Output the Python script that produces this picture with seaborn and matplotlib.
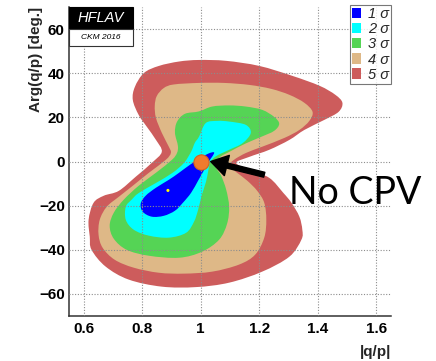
import matplotlib
matplotlib.use("Agg")
import numpy as np
import matplotlib.pyplot as plt
from matplotlib.patches import Patch, Rectangle, PathPatch
from matplotlib.path import Path
from matplotlib.ticker import MultipleLocator
import seaborn as sns
import pandas as pd

# ---------------- data ----------------
levels = ["1 σ", "2 σ", "3 σ", "4 σ", "5 σ"]
colors = ["#cd5c5c", "#deb887", "#55d455", "#00ffff", "#0000ff"]  # 5σ ... 1σ

red_x = [0.994, 1.087, 1.200, 1.313, 1.406, 1.460, 1.484, 1.471, 1.423, 1.354, 1.303, 1.234,
         1.166, 1.121, 1.166, 1.234, 1.282, 1.310, 1.337, 1.347, 1.344, 1.303, 1.210, 1.097,
         0.984, 0.867, 0.754, 0.675, 0.627, 0.621, 0.617, 0.634, 0.669, 0.720, 0.778, 0.833,
         0.867, 0.847, 0.816, 0.788, 0.768, 0.775, 0.806, 0.857, 0.926]
red_y = [46.0, 45.6, 43.3, 38.8, 34.3, 30.2, 26.6, 22.5, 18.9, 14.3, 9.8, 5.3,
         2.1, -0.6, -3.8, -7.4, -14.2, -18.7, -25.0, -30.9, -35.4, -43.1, -49.9, -54.9,
         -56.9, -56.7, -53.5, -47.6, -40.0, -34.1, -26.4, -18.7, -15.5, -13.3, -6.9, -0.6,
         4.4, 9.8, 15.7, 21.1, 27.9, 33.8, 40.1, 43.3, 45.3]

tan_x = [0.908, 0.994, 1.080, 1.166, 1.241, 1.303, 1.354, 1.382, 1.371, 1.337, 1.286, 1.210,
         1.155, 1.114, 1.097, 1.124, 1.159, 1.193, 1.217, 1.224, 1.217, 1.186, 1.131, 1.039,
         0.943, 0.857, 0.771, 0.706, 0.665, 0.651, 0.655, 0.679, 0.720, 0.764, 0.823, 0.881,
         0.898, 0.891, 0.867, 0.847, 0.843, 0.850, 0.874]
tan_y = [34.9, 35.6, 35.6, 34.7, 32.9, 30.2, 26.6, 22.5, 18.4, 14.3, 10.7, 6.7,
         3.9, 0.8, -1.9, -5.1, -8.7, -13.3, -18.7, -26.4, -34.5, -42.2, -46.7, -49.9,
         -50.8, -50.4, -48.1, -44.5, -39.1, -33.2, -26.4, -20.5, -16.0, -11.4, -5.1, 0.8,
         3.9, 6.7, 13.0, 19.8, 25.2, 29.7, 33.3]

green_x = [0.994, 1.039, 1.097, 1.154, 1.210, 1.251, 1.268, 1.251, 1.207, 1.154, 1.104, 1.063,
           1.052, 1.070, 1.087, 1.097, 1.090, 1.063, 1.004, 0.926, 0.823, 0.747, 0.703, 0.689,
           0.703, 0.737, 0.788, 0.847, 0.902, 0.919, 0.922, 0.912, 0.919, 0.946]
green_y = [22.7, 24.9, 25.4, 24.9, 23.4, 20.2, 17.1, 13.9, 11.2, 8.2, 4.8, 1.7,
           -2.4, -6.5, -12.8, -20.5, -28.2, -35.4, -40.9, -43.6, -42.7, -40.0, -35.0, -29.1,
           -23.2, -17.3, -11.0, -5.1, 0.8, 3.9, 7.1, 13.0, 18.0, 21.6]

cyan_x = [0.994, 1.017, 1.056, 1.097, 1.154, 1.171, 1.143, 1.097, 1.051, 1.032, 1.025, 1.018,
          1.004, 0.991, 0.977, 0.950, 0.891, 0.823, 0.771, 0.744, 0.744, 0.764, 0.788, 0.846,
          0.903, 0.943, 0.967, 0.980]
cyan_y = [11.2, 17.4, 18.4, 18.1, 16.6, 12.9, 8.3, 5.3, 2.3, -0.6, -4.7, -9.2,
          -15.1, -21.9, -27.3, -32.3, -34.5, -33.6, -30.9, -26.4, -20.5, -17.3, -14.3, -9.8,
          -5.2, -0.6, 4.4, 8.5]

blue_x = [1.046, 1.025, 1.008, 0.991, 0.967, 0.939, 0.912, 0.874, 0.833, 0.802, 0.795, 0.812,
          0.847, 0.891, 0.926, 0.963, 1.001, 1.028]
blue_y = [3.9, -0.6, -4.7, -8.7, -14.2, -18.7, -22.3, -24.6, -25.0, -22.8, -19.1, -15.5,
          -11.9, -8.3, -5.1, -1.5, 1.7, 3.7]

best_fit = pd.DataFrame({"qp": [0.888], "arg": [-13.1]})
no_cpv = pd.DataFrame({"qp": [1.0], "arg": [0.0]})
arrow_tail = (1.217, -6.0)
arrow_tip = (1.034, 0.0)

xticks = [0.6, 0.8, 1.0, 1.2, 1.4, 1.6]
xticklabels = ["0.6", "0.8", "1", "1.2", "1.4", "1.6"]
yticks = [-60, -40, -20, 0, 20, 40, 60]
yticklabels = ["\u221260", "\u221240", "\u221220", "0", "20", "40", "60"]


def smooth_closed_path(xs, ys):
    """Closed Catmull-Rom outline through the given vertices (drawn as cubic Bezier)."""
    p = np.column_stack([xs, ys]).astype(float)
    n = len(p)
    verts = [p[0]]
    codes = [Path.MOVETO]
    for i in range(n):
        p0, p1, p2, p3 = p[i - 1], p[i], p[(i + 1) % n], p[(i + 2) % n]
        c1 = p1 + (p2 - p0) / 6.0
        c2 = p2 - (p3 - p1) / 6.0
        verts += [c1, c2, p2]
        codes += [Path.CURVE4] * 3
    verts.append(p[0])
    codes.append(Path.CLOSEPOLY)
    return Path(verts, codes)


# ---------------- style ----------------
sns.set_theme(style="white")
plt.rcParams["font.family"] = ["Liberation Sans", "DejaVu Sans"]

fig = plt.figure(figsize=(4.36, 3.61), dpi=100)
ax = fig.add_axes([69 / 436, 1 - 316 / 361, 322 / 436, 309 / 361])

contours = [(red_x, red_y), (tan_x, tan_y), (green_x, green_y), (cyan_x, cyan_y), (blue_x, blue_y)]
for (xs, ys), c in zip(contours, colors):
    ax.add_patch(PathPatch(smooth_closed_path(xs, ys), facecolor=c, edgecolor="none", lw=0, zorder=1))

ax.set_xlim(0.55, 1.65)
ax.set_ylim(-70, 70)
ax.set_xticks(xticks)
ax.set_xticklabels(xticklabels)
ax.set_yticks(yticks)
ax.set_yticklabels(yticklabels)
ax.xaxis.set_minor_locator(MultipleLocator(0.05))
ax.yaxis.set_minor_locator(MultipleLocator(5))
for lab in ax.get_xticklabels() + ax.get_yticklabels():
    lab.set_fontweight("bold")
    lab.set_fontsize(11)
ax.tick_params(axis="both", which="both", direction="in", colors="#333333", labelcolor="black")
ax.tick_params(axis="x", which="major", length=5, width=1, pad=4)
ax.tick_params(axis="x", which="minor", length=3, width=0.8)
ax.tick_params(axis="y", which="major", length=8, width=1, pad=3)
ax.tick_params(axis="y", which="minor", length=4, width=0.8)
for s in ["top", "right"]:
    ax.spines[s].set_visible(False)
for s in ["left", "bottom"]:
    ax.spines[s].set_color("#333333")
    ax.spines[s].set_linewidth(1.1)

ax.grid(True, which="major", color="#8c8c8c", linestyle=(0, (1, 1.5)), linewidth=0.8, zorder=2)
ax.set_axisbelow(False)
for gl in ax.get_xgridlines() + ax.get_ygridlines():
    gl.set_zorder(2)

sns.scatterplot(data=best_fit, x="qp", y="arg", ax=ax, color="#ffff00", s=5,
                edgecolor="none", zorder=3, legend=False)
ax.annotate("", xy=arrow_tip, xytext=arrow_tail, zorder=5,
            arrowprops=dict(facecolor="black", edgecolor="black", width=3.6,
                            headwidth=15, headlength=12, shrink=0))
sns.scatterplot(data=no_cpv, x="qp", y="arg", ax=ax, color="#ef7b2d", s=120,
                edgecolor="#d4631c", linewidth=0.8, zorder=6, legend=False)

ax.set_xlabel("|q/p|", fontsize=11, fontweight="bold", loc="right", labelpad=7)
ax.set_ylabel("Arg(q/p) [deg.]", fontsize=11, fontweight="bold", loc="top")
ax.yaxis.set_label_coords(-0.082, 1.0)

# legend
handles = [Patch(facecolor=c, edgecolor="none") for c in colors[::-1]]
leg = ax.legend(handles, levels, loc="upper right",
                bbox_to_anchor=(1.0, 1.007), borderaxespad=0, frameon=True, fancybox=False,
                handlelength=0.6, handleheight=0.72, handletextpad=0.45, labelspacing=0.08,
                borderpad=0.15, prop={"style": "italic", "size": 10.5})
leg.get_frame().set_edgecolor("#555555")
leg.get_frame().set_linewidth(0.8)
leg.set_zorder(7)

# HFLAV label
ax.add_patch(Rectangle((0.0, 0.929), 0.199, 0.071, transform=ax.transAxes,
                       facecolor="black", edgecolor="black", lw=0.8, zorder=8, clip_on=False))
ax.add_patch(Rectangle((0.0, 0.874), 0.199, 0.055, transform=ax.transAxes,
                       facecolor="white", edgecolor="#333333", lw=0.8, zorder=8, clip_on=False))
ax.text(0.0995, 0.9645, "HFLAV", transform=ax.transAxes, ha="center", va="center",
        color="white", fontsize=10.5, style="italic", zorder=9)
ax.text(0.0995, 0.9015, "CKM 2016", transform=ax.transAxes, ha="center", va="center",
        color="black", fontsize=6, style="italic", zorder=9)

fig.text(355 / 436, 1 - 193 / 361, "No CPV", ha="center", va="center", fontsize=27,
         family=["Lato", "DejaVu Sans"], color="black", zorder=10)

fig.savefig("out.png", dpi=100)
